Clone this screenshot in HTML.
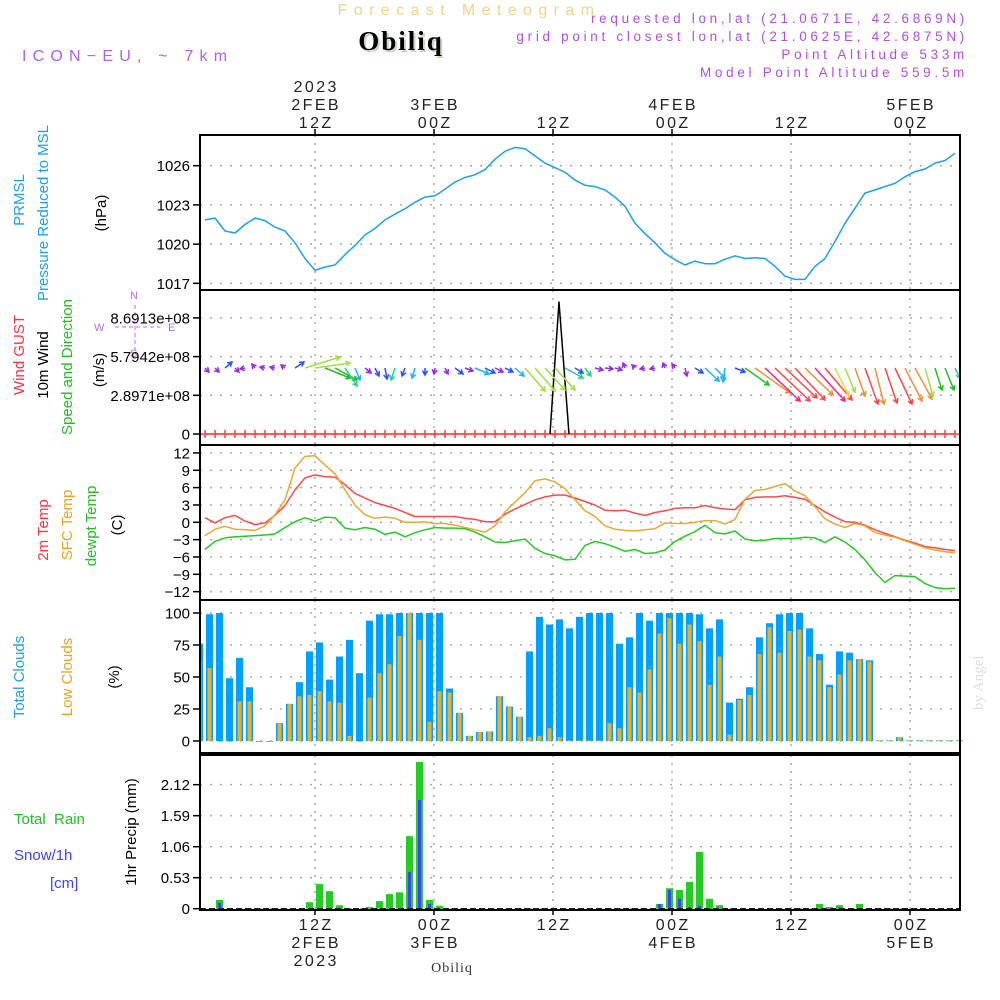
<!DOCTYPE html>
<html><head><meta charset="utf-8"><title>Obiliq Meteogram</title>
<style>
html,body{margin:0;padding:0;background:#fff;}
svg{display:block;font-family:"Liberation Sans",sans-serif;}
</style></head>
<body>
<svg id="chart" width="1000" height="1000" viewBox="0 0 1000 1000" xmlns="http://www.w3.org/2000/svg">
<rect x="0" y="0" width="1000" height="1000" fill="#fff"/>
<!-- header -->
<text x="469" y="15" text-anchor="middle" font-size="16" letter-spacing="6.4" fill="#f3d28e">Forecast Meteogram</text>
<text x="403" y="52" text-anchor="middle" font-family="Liberation Serif, serif" font-weight="bold" font-size="27" letter-spacing="2" fill="#c8d8c0">Obiliq</text>
<text x="401" y="50" text-anchor="middle" font-family="Liberation Serif, serif" font-weight="bold" font-size="27" letter-spacing="2" fill="#000">Obiliq</text>
<text x="22" y="61" font-size="16" letter-spacing="6.2" fill="#b060f0">ICON−EU, ~ 7km</text>
<g font-size="13.5" letter-spacing="3.7" fill="#b050e0" text-anchor="end">
<text x="968" y="23">requested lon,lat (21.0671E, 42.6869N)</text>
<text x="968" y="41">grid point closest lon,lat (21.0625E, 42.6875N)</text>
<text x="968" y="59">Point Altitude 533m</text>
<text x="968" y="77">Model Point Altitude 559.5m</text>
</g>
<!-- left labels -->
<g font-size="15">
<text transform="translate(24,200) rotate(-90)" text-anchor="middle" fill="#1aa0f0">PRMSL</text>
<text transform="translate(48,213) rotate(-90)" text-anchor="middle" fill="#1aa0f0">Pressure Reduced to MSL</text>
<text transform="translate(106,213) rotate(-90)" text-anchor="middle" fill="#000">(hPa)</text>
<text transform="translate(24,355) rotate(-90)" text-anchor="middle" fill="#ff3040">Wind GUST</text>
<text transform="translate(48,365) rotate(-90)" text-anchor="middle" fill="#000">10m Wind</text>
<text transform="translate(72,367) rotate(-90)" text-anchor="middle" fill="#20c020">Speed and Direction</text>
<text transform="translate(104,370) rotate(-90)" text-anchor="middle" fill="#000">(m/s)</text>
<text transform="translate(48,530) rotate(-90)" text-anchor="middle" fill="#ff3040">2m Temp</text>
<text transform="translate(72,525) rotate(-90)" text-anchor="middle" fill="#f0a020">SFC Temp</text>
<text transform="translate(96,526) rotate(-90)" text-anchor="middle" fill="#20c020">dewpt Temp</text>
<text transform="translate(122,525) rotate(-90)" text-anchor="middle" fill="#000">(C)</text>
<text transform="translate(24,677) rotate(-90)" text-anchor="middle" fill="#1aa0f0">Total Clouds</text>
<text transform="translate(72,677) rotate(-90)" text-anchor="middle" fill="#f0a020">Low Clouds</text>
<text transform="translate(119,677) rotate(-90)" text-anchor="middle" fill="#000">(%)</text>
<text transform="translate(136,832) rotate(-90)" text-anchor="middle" fill="#000">1hr Precip (mm)</text>
<text x="14" y="824" fill="#20c020" xml:space="preserve">Total  Rain</text>
<text x="14" y="860" fill="#4040ff">Snow/1h</text>
<text x="50" y="888" fill="#4040ff">[cm]</text>
</g>
<!-- compass -->
<g fill="#b070f0" stroke="#b070f0" font-size="11">
<text x="130" y="299" stroke="none">N</text>
<text x="94" y="331" stroke="none">W</text>
<text x="168" y="331" stroke="none">E</text>
<text x="130" y="357" stroke="none">S</text>
<line x1="115" y1="327" x2="160" y2="327" stroke-dasharray="4,3" fill="none"/>
<line x1="135" y1="305" x2="135" y2="350" stroke-dasharray="4,3" fill="none"/>
</g>
<text transform="translate(983,710) rotate(-90)" font-family="Liberation Serif, serif" font-size="15" fill="#ddd">by Angel</text>
<text x="452" y="972" text-anchor="middle" font-family="Liberation Serif, serif" font-size="14" letter-spacing="1" fill="#333">Obiliq</text>
<g id="layer"></g>
</svg>
<script>
// ---- data (hourly, index h = hours since 2FEB 00Z) ----
const pressHours = [1,2,3,4,5,6,7,8,9,10,11,12,13,14,15,16,17,18,19,20,21,22,23,24,25,26,27,28,29,30,31,32,33,34,35,36,37,38,39,40,41,42,43,44,45,46,47,48,49,50,51,52,53,54,55,56,57,58,59,60,61,62,63,64,65,66,67,68,69,70,71,72,73,74,75,76];
const pressure = [1021.85,1022.0,1021.0,1020.85,1021.5,1022.0,1021.8,1021.3,1021.0,1020.1,
1018.9,1018.0,1018.25,1018.4,1019.2,1019.9,1020.7,1021.2,1021.85,1022.3,
1022.7,1023.2,1023.6,1023.7,1024.2,1024.75,1025.1,1025.3,1025.7,1026.5,
1027.1,1027.4,1027.3,1026.75,1026.2,1025.85,1025.5,1024.9,1024.5,1024.4,
1024.15,1023.6,1022.9,1021.6,1020.8,1020.1,1019.3,1018.8,1018.4,1018.7,
1018.5,1018.5,1018.85,1019.1,1018.9,1018.95,1018.9,1018.3,1017.55,1017.3,
1017.3,1018.3,1018.9,1020.2,1021.6,1022.75,1023.9,1024.15,1024.4,1024.65,
1025.15,1025.55,1025.75,1026.2,1026.4,1026.95];
const temp2m = [0.8,-0.1,0.8,1.2,0.2,-0.4,-0.1,1.2,2.9,5.6,
7.7,8.2,7.9,7.8,6.5,5.0,4.2,3.4,2.9,2.4,
1.7,1.0,1.0,1.0,1.0,1.0,0.7,0.5,0.1,0.1,
1.4,2.3,3.1,3.9,4.4,4.7,4.7,4.2,3.6,3.0,
2.1,2.0,2.1,1.6,1.2,1.7,2.0,2.4,2.5,2.5,
2.9,2.5,2.3,2.2,3.9,4.3,4.4,4.4,4.6,4.3,
4.0,2.9,1.8,0.9,0.1,0,-0.5,-1.3,-1.9,-2.5,
-3.1,-3.6,-4.2,-4.4,-4.7,-4.9];
const tempSfc = [-2.3,-1.2,-0.7,-1.2,-1.3,-1.4,-0.6,1.3,3.9,9.4,
11.4,11.5,9.9,8.4,5.6,3.0,1.3,0.7,0.9,0.7,
0,0,0.1,-0.2,-0.2,-0.5,-0.9,-1.3,-1.7,-0.6,
1.8,3.5,5.1,7.2,7.5,7.0,5.8,3.9,2.0,1.0,
-0.6,-1.2,-1.4,-1.5,-1.3,-1.1,-0.1,-0.2,-0.2,0,
0.3,0.3,-0.3,0.5,4.0,5.5,5.7,6.2,6.7,5.4,
4.6,2.7,0.6,-0.3,-0.9,-0.2,-0.6,-1.8,-2.2,-2.6,
-3.2,-3.8,-4.4,-4.8,-5.1,-5.3];
const dewpoint = [-4.7,-3.3,-2.7,-2.5,-2.4,-2.3,-2.2,-2.0,-0.9,0.1,
0.8,0.2,0.9,0.8,-1.0,-1.3,-0.9,-1.2,-2.1,-1.7,
-2.5,-1.8,-1.3,-0.9,-1.0,-1.0,-1.1,-1.7,-2.5,-3.4,
-3.5,-3.2,-2.9,-4.5,-5.4,-5.8,-6.5,-6.4,-4.0,-3.3,
-3.7,-4.3,-5.0,-4.7,-5.4,-5.3,-4.8,-3.3,-2.4,-1.6,
-0.5,-1.8,-2.0,-1.5,-2.9,-3.2,-3.1,-2.8,-2.8,-2.8,
-2.6,-2.7,-3.5,-2.5,-3.4,-4.7,-6.5,-8.7,-10.4,-9.2,
-9.3,-9.4,-10.6,-11.3,-11.5,-11.4];
// clouds h0..h76
const totalClouds = [76,99,100,49,65,42,0,0,14,29,
46,70,77,48,66,79,53,94,99,99,
100,100,100,100,100,41,22,4,7,7.5,
35,27,19,70,97,91,95,88,97,100,
100,100,76,81,100,94,100,100,100,100,
99,88,95,30,33,42,81,92,99,100,
100,88,68,44,70,69,64,63,0.5,0.5,
3,0.5,0.5,0.5,0.5,0.5,0.5];
const lowClouds = [62,57,0,0,31,31,0,0,14,29,
35,36,39,31,30,4,0,34,53,60,
82,100,79,15,39,38,22,4,7,7.5,
35,27,19,3,4,10,3,0.5,0.5,0.5,
0.5,14,10,42,38,56,84,96,76,91,
78,44,66,5,32,36,68,89,69,86,
87,66,63,42,52,63,64,62,0.5,0.5,
3,0.5,0.5,0.5,0.5,0.5,0.5];
// precip h0..h76
const rain = [0,0,0.15,0,0,0,0,0,0,0,
0,0.11,0.42,0.30,0.06,0,0,0.03,0.13,0.25,
0.28,1.24,2.51,0.15,0.05,0,0,0,0,0,
0,0,0,0,0,0,0,0,0,0,
0,0,0,0,0,0,0.08,0.35,0.32,0.46,
0.97,0.17,0.06,0,0,0,0,0,0,0,
0,0,0.08,0.03,0.06,0,0.08,0,0,0,
0,0,0,0,0,0,0];
const snow = [0,0,0.10,0,0,0,0,0,0,0,
0,0,0,0,0,0,0,0,0,0,
0,0.63,1.86,0.08,0,0,0,0,0,0,
0,0,0,0,0,0,0,0,0,0,
0,0,0,0,0,0,0.08,0.32,0.17,0.03,
0.05,0,0,0,0,0,0,0,0,0,
0,0,0,0,0.02,0,0,0,0,0,
0,0,0,0,0,0,0];
// wind h1..h76 : vector components (display units) and colour class
const windU = [4,4,7,4,-5,-3,-5,-5,-4,9,35,35,25,22,12,5,6,4,2,-4,-3,-3,0,-1,3,8,8,14,10,8,8,9,20,20,20,20,18,8,6,8,8,7,-2,-3,-5,-5,-2,-3,2,8,14,10,-2,10,24,35,35,35,32,30,28,30,27,14,10,10,13,9,12,17,17,17,8,7,9,5];
const windV = [4,4,-6,4,1,-4,-1,-1,-3,-6,-11,-5,10,12,18,12,5,8,11,12,8,10,7,6,6,6,3,6,5,4,4,8,23,23,22,22,10,5,8,2,1,2,-5,-3,1,1,-5,-4,8,5,13,10,14,4,17,25,33,33,30,32,27,33,32,28,24,28,36,36,35,36,33,31,28,22,22,10];
const windColor = ["p","p","b","p","p","p","p","p","p","b","l","l","g","g","t","c","p","b","b","t","b","c","b","p","p","b","p","c","b","p","b","c","l","l","l","l","t","b","t","p","p","p","p","p","p","p","p","p","p","b","c","c","c","b","g","o","k","r","r","r","o","k","r","y","l","o","r","o","r","r","o","o","l","g","g","t"];
const gust = [0,0,0,0,0,0,0,0,0,0,0,0,0,0,0,0,0,0,0,0,0,0,0,0,0,0,0,0,0,0,0,0,0,0,0,0,0,0,0,0,0,0,0,0,0,0,0,0,0,0,0,0,0,0,0,0,0,0,0,0,0,0,0,0,0,0,0,0,0,0,0,0,0,0,0,0];
const spikeHours = [35.5,36.4,37.4];
const spikeValues = [0,9.88e8,0];
// ticks
const pressTicks = [1017,1020,1023,1026];
const windTicks = [0,2.8971e8,5.7942e8,8.6913e8];
const windTickLabels = ["0","2.8971e+08","5.7942e+08","8.6913e+08"];
const tempTicks = [12,9,6,3,0,-3,-6,-9,-12];
const cloudTicks = [0,25,50,75,100];
const precipTicks = [0,0.53,1.06,1.59,2.12];
const timeGridX = [315,434,553,672,791,910];
const topTimeLabels = [["2023","2FEB","12Z"],["","3FEB","00Z"],["","","12Z"],["","4FEB","00Z"],["","","12Z"],["","5FEB","00Z"]];
const bottomTimeLabels = [["12Z","2FEB","2023"],["00Z","3FEB",""],["12Z","",""],["00Z","4FEB",""],["12Z","",""],["00Z","5FEB",""]];

// ---- scales ----
const X0 = 200, X1 = 960;
const xOf = h => 195 + 10*h;
const yP = v => 165.7 + (1026 - v)*13.07;
const yW = v => 434 - v/2.8971e8*38.7;
const yT = v => 522.3 - v*5.78;
const yC = v => 741 - v*1.28;
const yR = v => 908.7 - v*58.5;
const colors = {p:"#9a28e6",b:"#2a50ff",c:"#20b0ff",t:"#20d0a0",g:"#20c020",l:"#a0e040",y:"#e0e030",o:"#f09030",r:"#ff4444",k:"#ff2080"};

const NS = "http://www.w3.org/2000/svg";
const layer = document.getElementById('layer');
function mk(tag, attrs, parent){
  const e = document.createElementNS(NS, tag);
  for (const k in attrs) e.setAttribute(k, attrs[k]);
  (parent||layer).appendChild(e);
  return e;
}
const panels = [
  {name:"pressure-panel", y0:135, y1:290},
  {name:"wind-panel", y0:290, y1:445},
  {name:"temperature-panel", y0:445, y1:600},
  {name:"cloud-panel", y0:600, y1:753},
  {name:"precip-panel", y0:755, y1:910}
];
// grids
panels.forEach(p => {
  const g = mk('g', {});
  
  
  timeGridX.forEach(x => {
    const l = mk('line', {x1:x, y1:p.y0, x2:x, y2:p.y1, stroke:"#aaa", "stroke-width":1.5, "stroke-dasharray":"2,6"}, g);
    
    
  });
});
function hGrid(vals, yf, name, labels, fs){
  vals.forEach((v,i) => {
    const y = yf(v);
    const l = mk('line', {x1:X0, y1:y, x2:X1, y2:y, stroke:"#aaa", "stroke-width":1.5, "stroke-dasharray":"2,8"});
    
    
    const t = mk('line', {x1:X0-7, y1:y, x2:X0, y2:y, stroke:"#000", "stroke-width":1.5});
    
    
    const tx = mk('text', {x:X0-10, y:y+5.5, "text-anchor":"end", "font-size":fs||15, fill:"#000"});
    tx.textContent = labels ? labels[i] : String(v);
    
    
  });
}
hGrid(pressTicks, yP, 'pressure-y');
hGrid(windTicks, yW, 'wind-y', windTickLabels);
hGrid(tempTicks, yT, 'temp-y', tempTicks.map(v => v<0 ? '−'+(-v) : String(v)));
hGrid(cloudTicks, yC, 'cloud-y');
hGrid(precipTicks, yR, 'precip-y', precipTicks.map(v => v===0?'0':v.toFixed(2)));

function line(hours, vals, yf, color, name, w){
  const pts = vals.map((v,i) => xOf(hours[i]).toFixed(1)+','+yf(v).toFixed(1)).join(' ');
  const pl = mk('polyline', {points:pts, fill:"none", stroke:color, "stroke-width":w||1.5, "stroke-linejoin":"round"});
  
  
}
line(pressHours, pressure, yP, "#1aa0f0", "pressure-line");
line(pressHours, temp2m, yT, "#ff4848", "temp-2m-line");
line(pressHours, tempSfc, yT, "#eaa830", "temp-sfc-line");
line(pressHours, dewpoint, yT, "#22cc22", "dewpoint-line");

line(pressHours, gust, yW, "#ff4040", "gust-line");
pressHours.forEach((h,i) => {
  const x = xOf(h), y = yW(gust[i]);
  const m = mk('path', {d:`M${x-4},${y}H${x+4}M${x},${y-4}V${y+4}`, stroke:"#ff4040", "stroke-width":1.5});
  
  
});
line(spikeHours, spikeValues, yW, "#000", "wind-spike-line");

pressHours.forEach((h,i) => {
  const x = xOf(h), y = 368;
  const dx = windU[i], dy = windV[i];
  const len = Math.hypot(dx,dy) || 1;
  const ux = dx/len, uy = dy/len;
  const hx = x+dx, hy = y+dy, a = 5;
  const lx = hx - a*(ux*0.87 - uy*0.5), ly = hy - a*(uy*0.87 + ux*0.5);
  const rx = hx - a*(ux*0.87 + uy*0.5), ry = hy - a*(uy*0.87 - ux*0.5);
  const c = colors[windColor[i]];
  const ar = mk('path', {d:`M${x},${y}L${hx},${hy}M${lx},${ly}L${hx},${hy}L${rx},${ry}`, stroke:c, "stroke-width":1.5, fill:"none"});
  
  
});

totalClouds.forEach((v,h) => {
  const x = xOf(h)+1;
  const x0 = Math.max(x, X0+1), w = x+7-x0;
  if (w <= 0) return;
  const b = mk('rect', {x:x0, y:yC(v), width:w, height:Math.max(0.8, yC(0)-yC(v)), fill:"#00a0ff"});
  
  
  const lv = lowClouds[h];
  const ox0 = Math.max(x+1.5, X0+1), ow = x+5.5-ox0;
  if (ow > 0) {
    const o = mk('rect', {x:ox0, y:yC(lv), width:ow, height:Math.max(0.8, yC(0)-yC(lv)), fill:"#e8b030"});
    
    
  }
});
rain.forEach((v,h) => {
  if (v <= 0) return;
  const x = xOf(h)+1;
  const b = mk('rect', {x:x, y:yR(v), width:7, height:yR(0)-yR(v), fill:"#22cc22"});
  
  
});
snow.forEach((v,h) => {
  if (v <= 0) return;
  const x = xOf(h)+3;
  const b = mk('rect', {x:x, y:yR(v), width:3, height:yR(0)-yR(v), fill:"#4040ff"});
  
  
});
const zl = mk('line', {x1:X0, y1:yR(0), x2:X1, y2:yR(0), stroke:"#222", "stroke-width":1.5, "stroke-dasharray":"6,3"});



panels.forEach(p => {
  const r = mk('rect', {x:X0, y:p.y0, width:X1-X0, height:p.y1-p.y0, fill:"none", stroke:"#000", "stroke-width":2});
  
  
});
timeGridX.forEach((x,i) => {
  const t1 = mk('line', {x1:x, y1:129, x2:x, y2:135, stroke:"#000", "stroke-width":1.5});
  
  
  const t2 = mk('line', {x1:x, y1:910, x2:x, y2:915, stroke:"#000", "stroke-width":1.5});
  
  
  topTimeLabels[i].forEach((s,j) => {
    if (!s) return;
    const tx = mk('text', {x:x+1.2, y:92+18*j, "text-anchor":"middle", "font-size":16, "letter-spacing":"2.4", fill:"#222"});
    tx.textContent = s;
    
    
  });
  bottomTimeLabels[i].forEach((s,j) => {
    if (!s) return;
    const tx = mk('text', {x:x+1.2, y:930+18*j, "text-anchor":"middle", "font-size":16, "letter-spacing":"2.4", fill:"#222"});
    tx.textContent = s;
    
    
  });
});
</script>
</body></html>
